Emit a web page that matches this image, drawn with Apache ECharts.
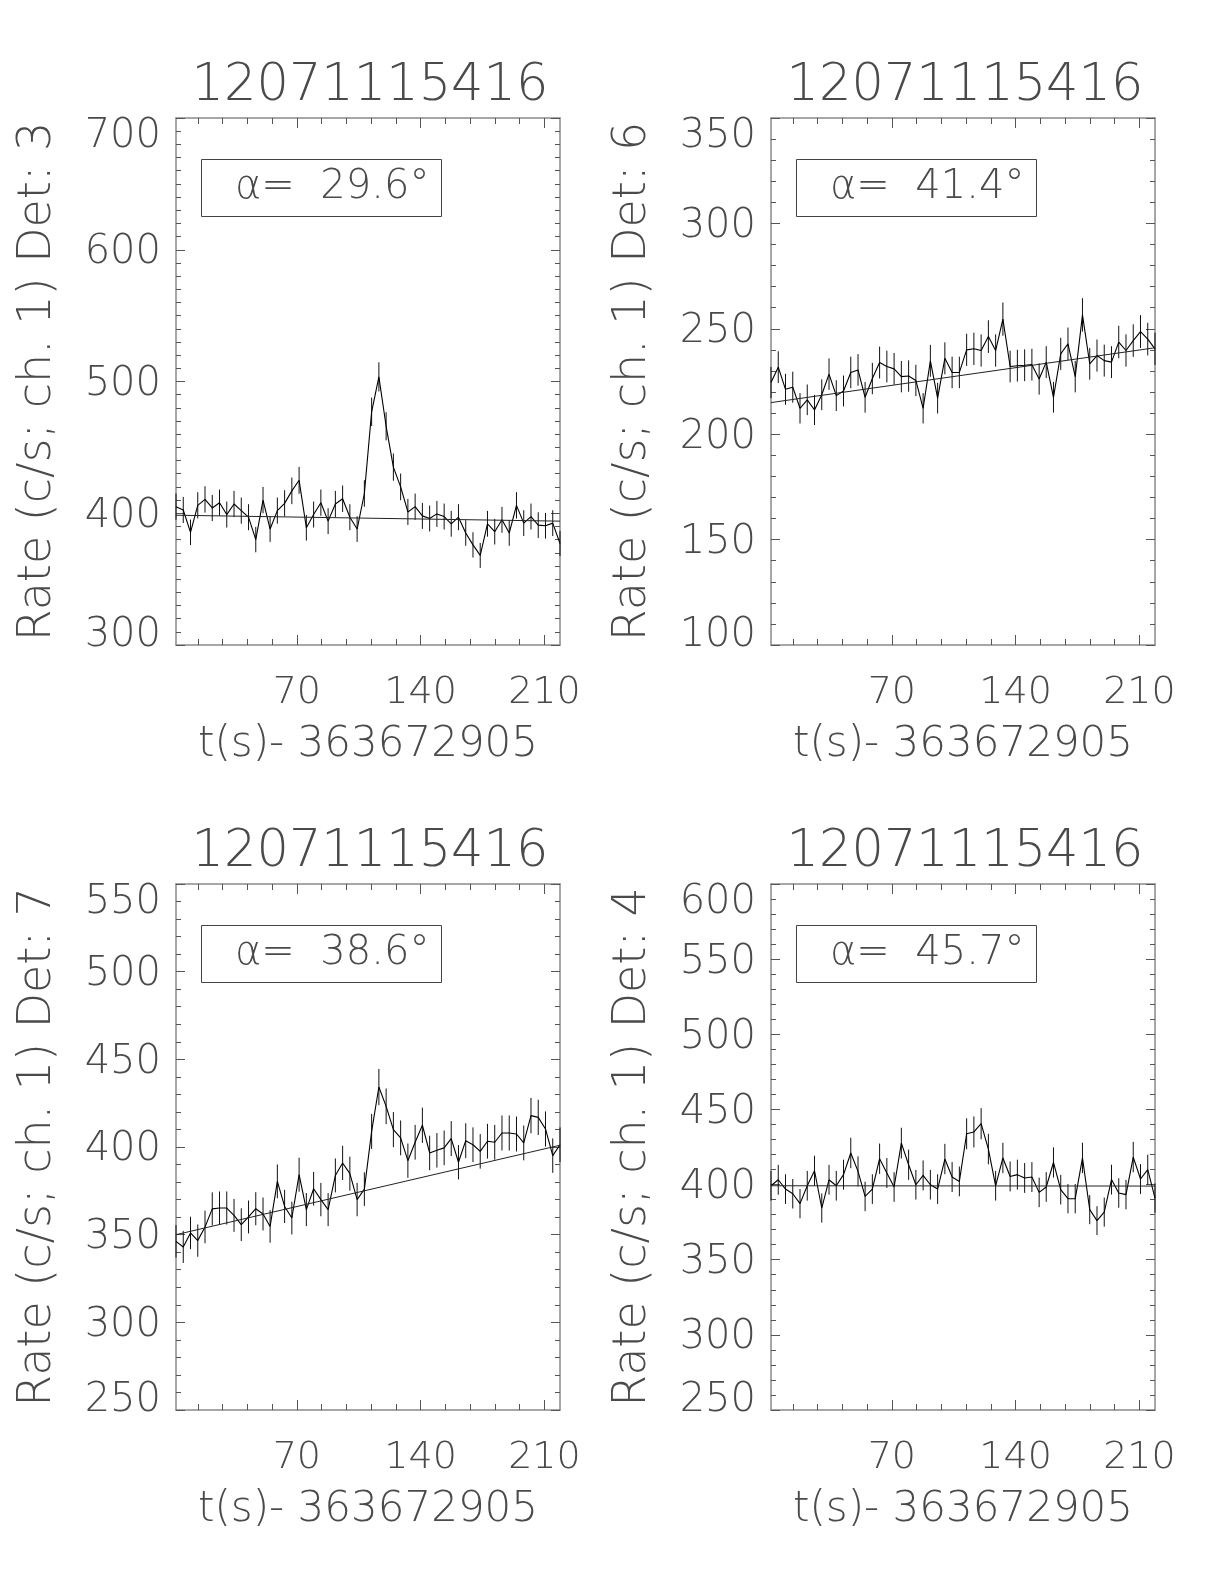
<!DOCTYPE html>
<html>
<head>
<meta charset="utf-8">
<script src="https://cdn.jsdelivr.net/npm/echarts@6/dist/echarts.min.js"></script>
<style>
html, body { margin: 0; padding: 0; background: #fff; }
#chart { width: 1224px; height: 1584px; }
</style>
</head>
<body>
<div id="chart"></div>
<script>
// ---------------- data ----------------
const triggerName = '12071115416';
const xTitle = 't(s)- 363672905';
const binWidth = 4.096;
const times = [1.7, 5.8, 9.9, 14.0, 18.1, 22.2, 26.3, 30.4, 34.5, 38.6, 42.7, 46.8, 50.9, 54.9,
  59.0, 63.1, 67.2, 71.3, 75.4, 79.5, 83.6, 87.7, 91.8, 95.9, 100.0, 104.1, 108.2, 112.3,
  116.4, 120.5, 124.6, 128.7, 132.8, 136.9, 141.0, 145.1, 149.2, 153.3, 157.3, 161.4, 165.5,
  169.6, 173.7, 177.8, 181.9, 186.0, 190.1, 194.2, 198.3, 202.4, 206.5, 210.6, 214.7, 218.8];

const rateDet3 = [405, 402.5, 385.5, 406, 410.5, 404, 408, 399, 407, 402, 397, 380, 410, 388,
  402, 407.5, 417, 425, 389, 399, 408, 394, 407, 411, 397, 388, 415,
  477, 503.5, 466, 435, 420, 401, 405, 398, 396, 399.5, 397.5, 392, 397, 385, 376, 368, 392,
  386, 395, 385, 406, 392.5, 397.5, 391, 390.5, 392.5, 377];
const rateDet6 = [224.5, 231.8, 221.3, 222.3, 212.3, 216.3, 211.5, 218.7, 228.5, 218.3, 220.5,
  229.3, 230.5, 217.5, 226.4, 234, 232.1, 231, 227.3, 227.6, 225.5, 212.3, 234.8, 217.1, 236,
  229.3, 229.3,
  240, 240.5, 239.7, 246.3, 239.7, 254.6, 232.1, 232.5, 232.7, 233, 226.2, 234.2, 217.5, 238.1,
  242.9, 227.3, 256.6, 233.4, 237.3, 234.9, 234.2, 243.7, 239.7, 244.4, 248.7, 245.1, 240.5];
const rateDet7 = [346.2, 343, 351, 346.6, 354.4, 364.7, 365.2, 365.2, 361, 355.7, 360.1, 364.8,
  361.8, 354.7, 380.4, 366.1, 359.5, 384.2, 364.3, 376.2, 370, 364.3, 383.8, 390.9, 384.8, 370, 376,
  408.9, 434.2, 423.2, 409.9, 405.2, 392.2, 402.7, 412.4, 396.6, 398.1, 399.5, 404.8, 391.3,
  403.6, 401.3, 397.5, 403.3, 402.7, 408, 408, 407.4, 402.3, 417.9, 416.9, 410.3, 395.1, 401.3];
const rateDet4 = [399.2, 403.2, 397, 393.9, 387.3, 399.2, 409.2, 384.4, 403.2, 399.2, 406.6, 421,
  408.8, 392.1, 397, 417.2, 407.7, 398.4, 427.6, 413.2, 399.9, 406.1, 399.9, 397, 417, 405, 402.1,
  433.8, 435, 440.5, 423.6, 399.2, 417.7, 405.4, 406.6, 404.4, 405, 394.8, 398.4, 414.7, 396.6,
  390.6, 390.6, 417.7, 383.3, 376, 381.7, 403.3, 394.4, 393.3, 418.3, 403.7, 409.9, 391];

const panelRates = [rateDet3, rateDet6, rateDet7, rateDet4];
const detectors = [3, 6, 7, 4];
const alphaLabels = ['29.6', '41.4', '38.6', '45.7'];
const fitStart = [398.5, 215, 350, 399.2];
const fitEnd = [394, 241, 401, 399];
const yMin = [300, 100, 250, 250];
const yMax = [700, 350, 550, 600];
const yStep = [100, 50, 50, 50];
const yMinorStep = [10, 10, 10, 10];
const xMajorTicks = [70, 140, 210];
const xMinorTicks = [14, 28, 42, 56, 70, 84, 98, 112, 126, 140, 154, 168, 182, 196, 210];

// ---------------- layout / style ----------------
const gridBoxes = [
  { left: 176, top: 118, width: 384, height: 527 },
  { left: 771, top: 118, width: 384, height: 527 },
  { left: 176, top: 884, width: 384, height: 526 },
  { left: 771, top: 884, width: 384, height: 526 }
];
const FONT = "'DejaVu Sans ExtraLight', 'DejaVu Sans', sans-serif";
const TXT = '#4a4a4a';
const FW = 200;
const frameLine = { color: '#8a8a8a', width: 1.5 };
const tickLine = { color: '#555', width: 1 };
const tMin = times[0];
const tMax = times[times.length - 1];

const grid = [], xAxis = [], yAxis = [], series = [], title = [];

gridBoxes.forEach(function (g, p) {
  grid.push({ left: g.left, top: g.top, width: g.width, height: g.height,
    containLabel: false, outerBoundsMode: 'none' });

  title.push({
    text: triggerName, left: g.left + g.width / 2 + 2, top: g.top - 57, textAlign: 'center',
    padding: 0,
    textStyle: { fontFamily: FONT, fontWeight: FW, fontSize: 51, color: TXT }
  });
  title.push({
    text: '\u03b1=  ' + alphaLabels[p] + '\u00b0', left: g.left + 25, top: g.top + 41,
    padding: [6, 12, 6, 34], borderWidth: 1, borderColor: '#444',
    textStyle: { fontFamily: FONT, fontWeight: FW, fontSize: 40, lineHeight: 46, color: TXT }
  });

  const xBase = { type: 'value', gridIndex: p, min: tMin, max: tMax,
    splitLine: { show: false }, axisLine: { show: false, onZero: false } };
  // bottom major (with labels + name)
  xAxis.push(Object.assign({}, xBase, {
    position: 'bottom',
    axisLine: { show: true, onZero: false, lineStyle: frameLine },
    axisTick: { show: true, inside: true, length: 10, customValues: xMajorTicks, lineStyle: tickLine },
    axisLabel: { show: true, customValues: xMajorTicks, margin: 29,
      fontFamily: FONT, fontWeight: FW, fontSize: 38, color: TXT },
    name: xTitle, nameLocation: 'middle', nameGap: 79,
    nameTextStyle: { fontFamily: FONT, fontWeight: FW, fontSize: 42, color: TXT }
  }));
  // bottom minor
  xAxis.push(Object.assign({}, xBase, {
    position: 'bottom',
    axisTick: { show: true, inside: true, length: 6, customValues: xMinorTicks, lineStyle: tickLine },
    axisLabel: { show: false }
  }));
  // top major
  xAxis.push(Object.assign({}, xBase, {
    position: 'top',
    axisLine: { show: true, onZero: false, lineStyle: frameLine },
    axisTick: { show: true, inside: true, length: 10, customValues: xMajorTicks, lineStyle: tickLine },
    axisLabel: { show: false }
  }));
  // top minor
  xAxis.push(Object.assign({}, xBase, {
    position: 'top',
    axisTick: { show: true, inside: true, length: 6, customValues: xMinorTicks, lineStyle: tickLine },
    axisLabel: { show: false }
  }));

  const labelFont = { fontFamily: FONT, fontWeight: FW, fontSize: 40, color: TXT };
  const yBase = { type: 'value', gridIndex: p, min: yMin[p], max: yMax[p], interval: yStep[p],
    splitLine: { show: false },
    axisLine: { show: true, onZero: false, lineStyle: frameLine },
    axisTick: { show: true, inside: true, length: 9, lineStyle: tickLine },
    minorTick: { show: true, splitNumber: yStep[p] / yMinorStep[p], length: 5, lineStyle: tickLine } };
  yAxis.push(Object.assign({}, yBase, {
    position: 'left',
    axisLabel: { show: true, margin: 15,
      formatter: (function (pp) {
        return function (v) {
          if (v === yMin[pp]) return '{lo|' + v + '}';
          if (v === yMax[pp]) return '{hi|' + v + '}';
          return '{m|' + v + '}';
        };
      })(p),
      rich: {
        lo: Object.assign({ padding: [0, 0, 18, 0] }, labelFont),
        hi: Object.assign({ padding: [38, 0, 0, 0] }, labelFont),
        m: Object.assign({ padding: [6, 0, 0, 0] }, labelFont)
      }
    },
    name: 'Rate (c/s; ch. 1) Det: ' + detectors[p], nameLocation: 'middle', nameGap: 115,
    nameTextStyle: { fontFamily: FONT, fontWeight: FW, fontSize: 46, color: TXT }
  }));
  yAxis.push(Object.assign({}, yBase, {
    position: 'right',
    axisLabel: { show: false }
  }));

  const rates = panelRates[p];
  const lineData = times.map(function (t, i) { return [t, rates[i]]; });
  const errData = times.map(function (t, i) {
    const e = Math.sqrt(rates[i] / binWidth);   // Poisson error of the binned rate
    return [t, rates[i] - e, rates[i] + e];
  });

  series.push({
    type: 'custom', xAxisIndex: p * 4, yAxisIndex: p * 2, data: errData,
    encode: { x: 0, y: [1, 2] }, silent: true, clip: false,
    renderItem: function (params, api) {
      const a = api.coord([api.value(0), api.value(1)]);
      const b = api.coord([api.value(0), api.value(2)]);
      return { type: 'line', shape: { x1: a[0], y1: a[1], x2: b[0], y2: b[1] },
        style: { stroke: '#111', lineWidth: 1 } };
    }
  });
  series.push({
    type: 'line', xAxisIndex: p * 4, yAxisIndex: p * 2, data: lineData,
    showSymbol: false, symbol: 'none', silent: true,
    lineStyle: { color: '#000', width: 1.1 }
  });
  series.push({
    type: 'line', xAxisIndex: p * 4, yAxisIndex: p * 2,
    data: [[tMin, fitStart[p]], [tMax, fitEnd[p]]],
    showSymbol: false, symbol: 'none', silent: true,
    lineStyle: { color: '#222', width: 1 }
  });
});

const chart = echarts.init(document.getElementById('chart'), null, { renderer: 'canvas' });
chart.setOption({
  animation: false,
  backgroundColor: '#fff',
  title: title,
  grid: grid,
  xAxis: xAxis,
  yAxis: yAxis,
  series: series
});
</script>
</body>
</html>
